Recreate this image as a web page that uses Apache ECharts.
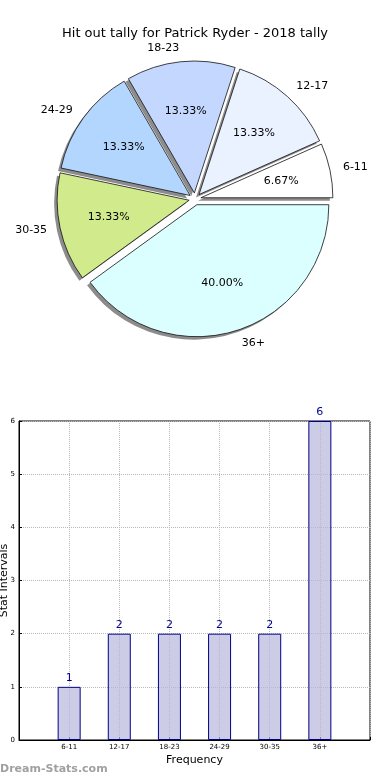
<!DOCTYPE html>
<html><head><meta charset="utf-8">
<script src="https://cdn.jsdelivr.net/npm/echarts@6/dist/echarts.min.js"></script>
<style>html,body{margin:0;padding:0;background:#fff}#c{width:390px;height:780px}</style>
</head><body><div id="c"></div>
<script>
const categories = ['6-11', '12-17', '18-23', '24-29', '30-35', '36+'];
const counts = [1, 2, 2, 2, 2, 6];
const barPositions = [1, 2, 3, 4, 5, 6];
const sliceColors = ['#ffffff', '#ebf2ff', '#c4d8ff', '#b3d6ff', '#d0ea8c', '#dbffff'];
const titleText = 'Hit out tally for Patrick Ryder - 2018 tally';
const xName = 'Frequency';
const yName = 'Stat Intervals';
const watermark = 'Dream-Stats.com';

const FONT = 'DejaVu Sans';
const R = 132, CX = 195, CY = 199, OFF = 6;
const total = counts.reduce((a, b) => a + b, 0);

function pieData(withColor) {
  return categories.map((c, i) => {
    const d = { name: c, value: counts[i], selected: true };
    if (withColor) d.itemStyle = { color: sliceColors[i] };
    return d;
  });
}
const common = {
  type: 'pie', startAngle: 0, clockwise: false, selectedMode: 'multiple',
  selectedOffset: OFF, animation: false, avoidLabelOverlap: false,
  emphasis: { disabled: true }, select: { disabled: false }
};

const chart = echarts.init(document.getElementById('c'), null, { renderer: 'canvas' });
chart.setOption({
  backgroundColor: '#fff',
  textStyle: { fontFamily: FONT },
  title: [
    { text: titleText, left: 'center', top: 22, textStyle: { fontFamily: FONT, fontSize: 13, fontWeight: 'normal', color: '#000' } },
    { text: watermark, left: 0, top: 764, padding: 0, textStyle: { fontFamily: FONT, fontSize: 11, fontWeight: 'bold', color: '#a0a0a0' } }
  ],
  grid: { left: 19, right: 20, top: 421, bottom: 40, outerBoundsMode: 'none', containLabel: false,
    show: true, borderColor: '#000', borderWidth: 1, backgroundColor: 'transparent' },
  xAxis: {
    type: 'value', min: 0, max: 7, interval: 1,
    axisLine: { show: true, lineStyle: { color: '#000', width: 1 } },
    axisTick: { show: true, inside: true, length: 3, lineStyle: { color: '#000' } },
    axisLabel: { fontSize: 7, color: '#000', margin: 4, formatter: v => categories[v - 1] || '' },
    splitLine: { show: true, lineStyle: { color: '#b8b8b8', type: 'dotted', width: 1 } },
    name: xName, nameLocation: 'middle', nameGap: 15, nameMoveOverlap: false,
    nameTextStyle: { fontSize: 11, color: '#000', fontFamily: FONT }
  },
  yAxis: {
    type: 'value', min: 0, max: 6, interval: 1,
    axisLine: { show: true, lineStyle: { color: '#000', width: 1 } },
    axisTick: { show: true, inside: true, length: 3, lineStyle: { color: '#000' } },
    axisLabel: { fontSize: 7, color: '#000', margin: 4 },
    splitLine: { show: true, lineStyle: { color: '#b8b8b8', type: 'dotted', width: 1 } },
    name: yName, nameLocation: 'middle', nameGap: 9, nameMoveOverlap: false,
    nameTextStyle: { fontSize: 11, color: '#000', fontFamily: FONT }
  },
  series: [
    Object.assign({}, common, {
      name: 'shadow', center: [CX - 3, CY + 3], radius: [0, R], silent: true, z: 1,
      data: pieData(false), label: { show: false }, labelLine: { show: false },
      itemStyle: { color: '#8c8c8c', borderWidth: 0 }
    }),
    Object.assign({}, common, {
      name: 'slices', center: [CX, CY], radius: [0, R], z: 2,
      data: pieData(true),
      itemStyle: { borderColor: '#111', borderWidth: 0.8 },
      label: { show: true, position: 'outside', formatter: '{b}', fontSize: 11, color: '#000', fontFamily: FONT, distanceToLabelLine: 0 },
      labelLine: { show: false, length: R * 0.1, length2: 0 }
    }),
    Object.assign({}, common, {
      name: 'pct', center: [CX, CY], radius: [R * 0.2, R], silent: true, z: 3,
      data: pieData(false),
      itemStyle: { color: 'rgba(0,0,0,0)', borderWidth: 0 },
      label: { show: true, position: 'inside', fontSize: 11, color: '#000', fontFamily: FONT,
        formatter: p => (p.value / total * 100).toFixed(2) + '%' },
      labelLine: { show: false }
    }),
    {
      type: 'bar', name: 'counts', animation: false, barWidth: 23, z: 2,
      data: barPositions.map((x, i) => [x, counts[i]]),
      itemStyle: { color: 'rgba(182,182,219,0.7)', borderColor: '#00008b', borderWidth: 1 },
      label: { show: true, position: 'top', distance: 3, fontSize: 11, color: '#00008b', fontFamily: FONT },
      emphasis: { disabled: true }
    }
  ]
});
</script></body></html>
